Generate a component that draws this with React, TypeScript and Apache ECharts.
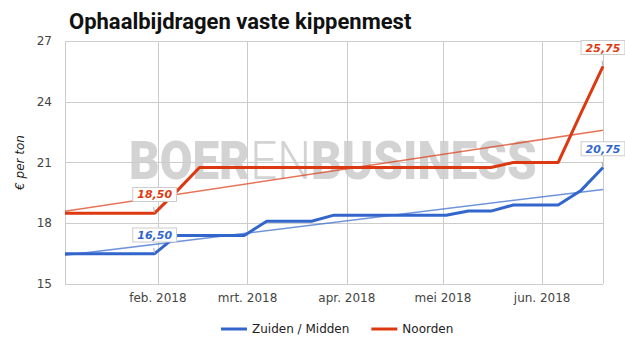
import React, { useEffect, useRef } from "react";
import * as echarts from "echarts";

const dates = [
  "2018-01-03", "2018-01-10", "2018-01-17", "2018-01-24", "2018-01-31",
  "2018-02-07", "2018-02-14", "2018-02-21", "2018-02-28", "2018-03-07",
  "2018-03-14", "2018-03-21", "2018-03-28", "2018-04-04", "2018-04-11",
  "2018-04-18", "2018-04-25", "2018-05-02", "2018-05-09", "2018-05-16",
  "2018-05-23", "2018-05-30", "2018-06-06", "2018-06-13", "2018-06-20",
];

const zuidenMidden = [
  16.5, 16.5, 16.5, 16.5, 16.5,
  17.4, 17.4, 17.4, 17.4, 18.1,
  18.1, 18.1, 18.4, 18.4, 18.4,
  18.4, 18.4, 18.4, 18.6, 18.6,
  18.9, 18.9, 18.9, 19.6, 20.75,
];

const noorden = [
  18.5, 18.5, 18.5, 18.5, 18.5,
  19.6, 20.75, 20.75, 20.75, 20.75,
  20.75, 20.75, 20.75, 20.75, 20.75,
  20.75, 20.75, 20.75, 20.75, 20.75,
  21.0, 21.0, 21.0, 23.4, 25.75,
];

const labelledIdx = [4, 24];
const monthLabels = ["jan. 2018", "feb. 2018", "mrt. 2018", "apr. 2018", "mei 2018", "jun. 2018", "jul. 2018"];
const seriesNames = ["Zuiden / Midden", "Noorden"];
const yTicks = { min: 15, max: 27, interval: 3 };
const watermarkParts = [
  { text: "BOER", bold: true },
  { text: "EN", bold: false },
  { text: "BUSINESS", bold: true },
];

const BLUE = "#3366cc";
const RED = "#dc3912";
const FONT = "'DejaVu Sans', Verdana, sans-serif";
const WM_FAMILY = "Roboto, sans-serif";
const WM_SIZE = 53;
const WM_WIDTH = 408;
const WM_COLOR = "#d3d3d3";

function trend(values: number[]) {
  const n = values.length;
  const mx = (n - 1) / 2;
  const my = values.reduce((a, b) => a + b, 0) / n;
  let sxy = 0;
  let sxx = 0;
  values.forEach((v, i) => {
    sxy += (i - mx) * (v - my);
    sxx += (i - mx) * (i - mx);
  });
  const b = sxy / sxx;
  const a = my - b * mx;
  return [
    [dates[0], a],
    [dates[n - 1], a + b * (n - 1)],
  ];
}

const fmt = (v: number) => v.toFixed(2).replace(".", ",");

function labelSeries(values: number[], color: string) {
  return {
    type: "scatter",
    name: "lbl-" + color,
    data: labelledIdx.map((i) => [dates[i], values[i]]),
    symbol: "circle",
    symbolSize: 0.5,
    itemStyle: { color, opacity: 1 },
    silent: true,
    z: 6,
    label: {
      show: true,
      position: "top",
      distance: 12,
      formatter: (p: any) => fmt(p.value[1]),
      color,
      opacity: 1,
      fontFamily: FONT,
      fontSize: 11,
      fontWeight: "bold",
      fontStyle: "italic",
      backgroundColor: "#fff",
      borderColor: "#ccc",
      borderWidth: 1,
      padding: [1, 4, 0, 4],
      lineHeight: 12,
    },
    labelLine: { show: true, lineStyle: { color: "#aaa", width: 1, opacity: 1 } },
  };
}

function watermark() {
  const canvas = document.createElement("canvas");
  const ctx = canvas.getContext("2d")!;
  const widths = watermarkParts.map((p) => {
    ctx.font = `${p.bold ? "900" : "300"} ${WM_SIZE}px ${WM_FAMILY}`;
    return ctx.measureText(p.text).width;
  });
  const total = widths.reduce((a, b) => a + b, 0);
  let x = -total / 2;
  const children = watermarkParts.map((p, i) => {
    const el = {
      type: "text",
      x,
      y: 0,
      silent: true,
      style: {
        text: p.text,
        font: `${p.bold ? "900" : "300"} ${WM_SIZE}px ${WM_FAMILY}`,
        fill: WM_COLOR,
        align: "left",
        verticalAlign: "middle",
      },
    };
    x += widths[i];
    return el;
  });
  return { type: "group", x: 333, y: 161, scaleX: WM_WIDTH / total, z: -1, silent: true, children };
}

export default function App() {
  const ref = useRef<HTMLDivElement>(null);
  useEffect(() => {
    document.body.style.margin = "0";
    const chart = echarts.init(ref.current!, null, { renderer: "svg" });
    chart.setOption({
      animation: false,
      title: {
        text: "Ophaalbijdragen vaste kippenmest",
        left: 64,
        top: 5,
        textStyle: { fontFamily: "Roboto, sans-serif", fontSize: 22, fontWeight: "bold", color: "#111" },
      },
      graphic: [watermark()],
      legend: {
        data: seriesNames,
        left: 216,
        top: 318,
        icon: "rect",
        itemWidth: 26,
        itemHeight: 3,
        itemGap: 22,
        textStyle: { fontFamily: FONT, fontSize: 12, color: "#222" },
      },
      grid: { left: 65, right: 22, top: 41, bottom: 71 },
      xAxis: {
        type: "time",
        min: dates[0],
        max: dates[dates.length - 1],
        axisLine: { show: false },
        axisTick: { show: false },
        splitLine: { show: true, lineStyle: { color: "#ccc", width: 1 } },
        axisLabel: {
          color: "#444",
          fontFamily: FONT,
          fontSize: 12,
          margin: 8,
          formatter: (v: number) => monthLabels[new Date(v).getMonth()],
        },
      },
      yAxis: {
        type: "value",
        min: yTicks.min,
        max: yTicks.max,
        interval: yTicks.interval,
        name: "€ per ton",
        nameLocation: "middle",
        nameGap: 39,
        nameTextStyle: { fontFamily: FONT, fontSize: 12, fontStyle: "italic", color: "#222" },
        axisLine: { show: false },
        axisTick: { show: false },
        splitLine: { lineStyle: { color: "#ccc", width: 1 } },
        axisLabel: { color: "#444", fontFamily: FONT, fontSize: 12, margin: 13 },
      },
      series: [
        {
          type: "line",
          name: seriesNames[0],
          data: dates.map((d, i) => [d, zuidenMidden[i]]),
          showSymbol: false,
          lineStyle: { color: BLUE, width: 3 },
          itemStyle: { color: BLUE },
          z: 4,
        },
        {
          type: "line",
          name: seriesNames[1],
          data: dates.map((d, i) => [d, noorden[i]]),
          showSymbol: false,
          lineStyle: { color: RED, width: 3 },
          itemStyle: { color: RED },
          z: 4,
        },
        {
          type: "line",
          name: "Trend " + seriesNames[0],
          data: trend(zuidenMidden),
          showSymbol: false,
          silent: true,
          lineStyle: { color: BLUE, width: 1.5, opacity: 0.7 },
          itemStyle: { color: BLUE },
          z: 3,
        },
        {
          type: "line",
          name: "Trend " + seriesNames[1],
          data: trend(noorden),
          showSymbol: false,
          silent: true,
          lineStyle: { color: RED, width: 1.5, opacity: 0.7 },
          itemStyle: { color: RED },
          z: 3,
        },
        labelSeries(zuidenMidden, BLUE),
        labelSeries(noorden, RED),
      ],
    });
    return () => chart.dispose();
  }, []);
  return <div ref={ref} style={{ width: 625, height: 355 }} />;
}
